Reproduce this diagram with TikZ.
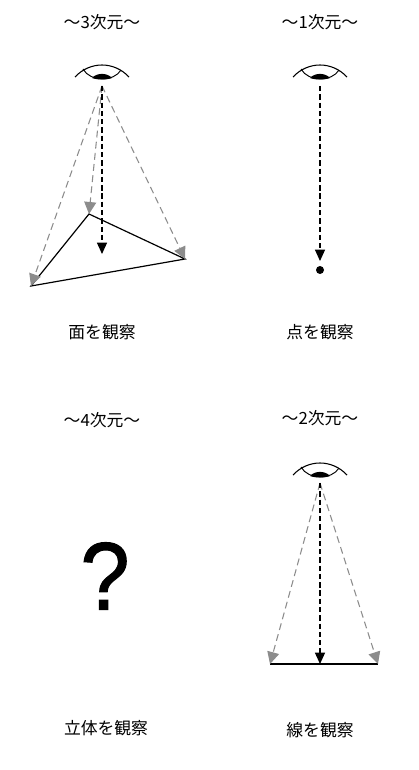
\documentclass[tikz,border=0pt]{standalone}
\usepackage{fontspec}
\setmainfont{Liberation Sans}
\newfontfamily\jpfont{Noto Sans CJK JP}
\newfontfamily\queryfont[FakeBold=1.2]{Liberation Sans}
\usetikzlibrary{arrows.meta, positioning}

\begin{document}
\begin{tikzpicture}[
  x=0.75pt, y=-0.75pt,
  caption/.style={
    inner sep=0pt,
    align=center,
    font=\jpfont\fontsize{12.6pt}{15pt}\selectfont
  },
  sight/.style={-{Triangle[length=8.5pt, width=7.5pt]}, dash pattern=on 4pt off 2.2pt, line width=0.9pt, draw=black},
  ray/.style={-{Triangle[length=9pt, width=9pt]}, dash pattern=on 5.2pt off 3.2pt, line width=0.8pt, draw=black!45},
  edge/.style={draw=black, line width=0.9pt},
  eye/.pic={
    \draw[line width=0.8pt] (-27,12) .. controls (-12,-4) and (12,-4) .. (27,12);
    \draw[line width=0.7pt] (-19,4) .. controls (-12,17) and (12,17) .. (19,5);
    \fill[black] (-10,13) .. controls (-5,7.5) and (5,7.5) .. (10,13) .. controls (5,15) and (-5,15) .. (-10,13) -- cycle;
  }
]
  \useasboundingbox (0,0) rectangle (418,770);

  % titles
  \node[caption] (title3) at (102,22) {～3次元～};
  \node[caption] (title1) at (320,22) {～1次元～};
  \node[caption] (title4) at (102,420) {～4次元～};
  \node[caption] (title2) at (320,418) {～2次元～};

  % captions
  \node[caption] (face) at (102,332) {面を観察};
  \node[caption] (point) at (320,332) {点を観察};
  \node[caption] (solid) at (106,728) {立体を観察};
  \node[caption] (line) at (320,730) {線を観察};

  % eyes
  \pic at (102,65) {eye};
  \pic at (320,65) {eye};
  \pic at (320,463) {eye};

  % face
  \coordinate (eyeA) at (102,86);
  \coordinate (apex) at (89,214);
  \coordinate (left) at (31,286);
  \coordinate (right) at (185,259);
  \coordinate (inside) at (102,254);
  \draw[edge] (apex) -- (left) -- (right) -- cycle;
  \draw[ray] (eyeA) -- (left);
  \draw[ray] (eyeA) -- (apex);
  \draw[ray] (eyeA) -- (right);
  \draw[sight] (eyeA) -- (inside);

  % point
  \coordinate (eyeB) at (320,86);
  \node[circle, fill=black, inner sep=0pt, minimum size=6pt] (dot) at (320,270) {};
  \coordinate (above) at (320,261);
  \draw[sight] (eyeB) -- (above);

  % unknown
  \node[inner sep=0pt, xscale=0.92, font=\queryfont\fontsize{72pt}{78pt}\selectfont] (query) at (105,576) {?};

  % line
  \coordinate (eyeC) at (320,483);
  \coordinate (lineL) at (270,664);
  \coordinate (lineM) at (320,664);
  \coordinate (lineR) at (378,664);
  \draw[edge] (lineL) -- (lineR);
  \draw[ray] (eyeC) -- (lineL);
  \draw[ray] (eyeC) -- (lineR);
  \draw[sight] (eyeC) -- (lineM);
\end{tikzpicture}
\end{document}
